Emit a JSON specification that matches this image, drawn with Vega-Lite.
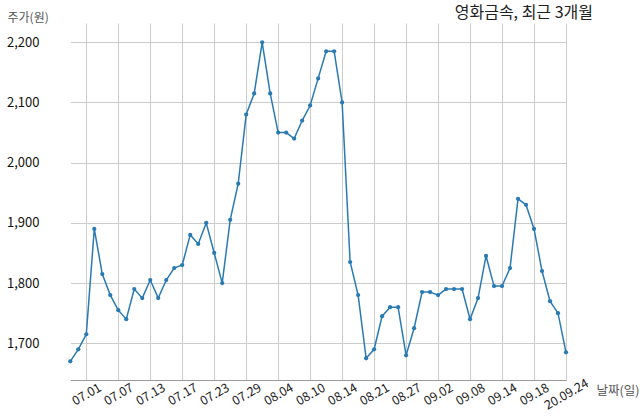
{
  "$schema": "https://vega.github.io/schema/vega-lite/v6.json",
  "width": 550,
  "height": 357,
  "autosize": {"type": "none"},
  "padding": {"left": 43, "top": 23, "right": 47, "bottom": 39},
  "background": "white",
  "config": {
    "view": {"stroke": null},
    "font": "Noto Sans CJK KR",
    "axis": {"gridColor": "#cccccc", "gridWidth": 1, "labelFont": "Noto Sans CJK KR", "titleFont": "Noto Sans CJK KR"}
  },
  "title": {
    "text": "영화금속, 최근 3개월",
    "anchor": "end",
    "frame": "group",
    "font": "Noto Sans CJK KR",
    "fontSize": 16,
    "fontWeight": "normal",
    "color": "#222222",
    "baseline": "alphabetic",
    "offset": 3,
    "dy": 26
  },
  "data": {
    "values": [
      {"date": "20.06.29", "price": 1670},
      {"date": "20.06.30", "price": 1690},
      {"date": "20.07.01", "price": 1715},
      {"date": "20.07.02", "price": 1890},
      {"date": "20.07.03", "price": 1815},
      {"date": "20.07.06", "price": 1780},
      {"date": "20.07.07", "price": 1755},
      {"date": "20.07.08", "price": 1740},
      {"date": "20.07.09", "price": 1790},
      {"date": "20.07.10", "price": 1775},
      {"date": "20.07.13", "price": 1805},
      {"date": "20.07.14", "price": 1775},
      {"date": "20.07.15", "price": 1805},
      {"date": "20.07.16", "price": 1825},
      {"date": "20.07.17", "price": 1830},
      {"date": "20.07.20", "price": 1880},
      {"date": "20.07.21", "price": 1865},
      {"date": "20.07.22", "price": 1900},
      {"date": "20.07.23", "price": 1850},
      {"date": "20.07.24", "price": 1800},
      {"date": "20.07.27", "price": 1905},
      {"date": "20.07.28", "price": 1965},
      {"date": "20.07.29", "price": 2080},
      {"date": "20.07.30", "price": 2115},
      {"date": "20.07.31", "price": 2200},
      {"date": "20.08.03", "price": 2115},
      {"date": "20.08.04", "price": 2050},
      {"date": "20.08.05", "price": 2050},
      {"date": "20.08.06", "price": 2040},
      {"date": "20.08.07", "price": 2070},
      {"date": "20.08.10", "price": 2095},
      {"date": "20.08.11", "price": 2140},
      {"date": "20.08.12", "price": 2185},
      {"date": "20.08.13", "price": 2185},
      {"date": "20.08.14", "price": 2100},
      {"date": "20.08.18", "price": 1835},
      {"date": "20.08.19", "price": 1780},
      {"date": "20.08.20", "price": 1675},
      {"date": "20.08.21", "price": 1690},
      {"date": "20.08.24", "price": 1745},
      {"date": "20.08.25", "price": 1760},
      {"date": "20.08.26", "price": 1760},
      {"date": "20.08.27", "price": 1680},
      {"date": "20.08.28", "price": 1725},
      {"date": "20.08.31", "price": 1785},
      {"date": "20.09.01", "price": 1785},
      {"date": "20.09.02", "price": 1780},
      {"date": "20.09.03", "price": 1790},
      {"date": "20.09.04", "price": 1790},
      {"date": "20.09.07", "price": 1790},
      {"date": "20.09.08", "price": 1740},
      {"date": "20.09.09", "price": 1775},
      {"date": "20.09.10", "price": 1845},
      {"date": "20.09.11", "price": 1795},
      {"date": "20.09.14", "price": 1795},
      {"date": "20.09.15", "price": 1825},
      {"date": "20.09.16", "price": 1940},
      {"date": "20.09.17", "price": 1930},
      {"date": "20.09.18", "price": 1890},
      {"date": "20.09.21", "price": 1820},
      {"date": "20.09.22", "price": 1770},
      {"date": "20.09.23", "price": 1750},
      {"date": "20.09.24", "price": 1685}
    ]
  },
  "mark": {
    "type": "line",
    "color": "#2a7ab2",
    "strokeWidth": 1.5,
    "point": {"filled": true, "size": 18, "color": "#2a7ab2", "opacity": 1}
  },
  "encoding": {
    "x": {
      "field": "date",
      "type": "ordinal",
      "sort": null,
      "scale": {"type": "point", "padding": 0, "range": [27.3, 523]},
      "axis": {
        "values": ["20.07.01", "20.07.07", "20.07.13", "20.07.17", "20.07.23", "20.07.29", "20.08.04", "20.08.10", "20.08.14", "20.08.21", "20.08.27", "20.09.02", "20.09.08", "20.09.14", "20.09.18", "20.09.24"],
        "labelExpr": "datum.value == '20.09.24' ? datum.value : substring(datum.value, 3)",
        "labelAngle": -30,
        "labelAlign": "center",
        "labelBaseline": "middle",
        "labelPadding": 14,
        "labelFontSize": 12.5,
        "labelColor": "#222222",
        "ticks": false,
        "grid": true,
        "domainColor": "#999999",
        "domainWidth": 1,
        "title": "날짜(일)",
        "titleFontSize": 12.5,
        "titleFontWeight": "normal",
        "titleColor": "#555555",
        "titleAlign": "left",
        "titleBaseline": "alphabetic",
        "titleAngle": 0,
        "titleX": 553,
        "titleY": 14
      }
    },
    "y": {
      "field": "price",
      "type": "quantitative",
      "scale": {"domain": [1639, 2232], "nice": false, "zero": false},
      "axis": {
        "values": [1700, 1800, 1900, 2000, 2100, 2200],
        "format": ",d",
        "domain": false,
        "ticks": false,
        "labelPadding": 4,
        "labelFontSize": 13,
        "labelColor": "#111111",
        "title": "주가(원)",
        "titleFontSize": 12,
        "titleFontWeight": "normal",
        "titleColor": "#555555",
        "titleAngle": 0,
        "titleAlign": "left",
        "titleBaseline": "alphabetic",
        "titleX": -36,
        "titleY": -2
      }
    }
  }
}
